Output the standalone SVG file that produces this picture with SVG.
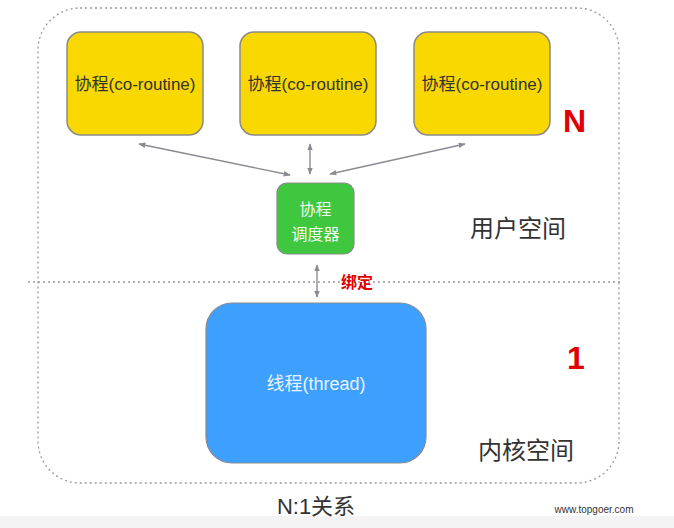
<svg xmlns="http://www.w3.org/2000/svg" width="674" height="528" viewBox="0 0 674 528">
<defs>
<style>
.t{font-family:"Liberation Sans","Noto Sans CJK SC",sans-serif;}
.co{fill:#F8D800;stroke:#8a8a8a;stroke-width:1.5;}
.lbl{font-size:17px;fill:#333;text-anchor:middle;}
.wl{font-size:16px;fill:#f0f8f0;text-anchor:middle;}
.big{font-size:24px;fill:#333;}
.red{fill:#e00000;font-weight:bold;}
.conn{stroke:#8a8a92;stroke-width:1.4;fill:none;marker-start:url(#ah);marker-end:url(#ah);}
.dash{fill:none;stroke:#999;stroke-width:1.3;stroke-dasharray:2 3;}
</style>
<marker id="ah" viewBox="0 0 10 10" refX="9" refY="5" markerWidth="7" markerHeight="7" orient="auto-start-reverse" markerUnits="userSpaceOnUse">
<path d="M0,1 L10,5 L0,9 Z" fill="#8a8a92"/>
</marker>
</defs>
<rect width="674" height="528" fill="#ffffff"/>
<rect x="0" y="516" width="674" height="12" fill="#f4f4f4"/>
<g id="frame">
<rect class="dash" x="38" y="8" width="581" height="475" rx="42"/>
<line class="dash" x1="28" y1="282" x2="623" y2="282"/>
</g>
<g id="co1"><rect class="co" x="67" y="32" width="136" height="103" rx="14"/><text class="t lbl" x="135" y="90">协程(co-routine)</text></g>
<g id="co2"><rect class="co" x="240" y="32" width="136" height="103" rx="14"/><text class="t lbl" x="308" y="90">协程(co-routine)</text></g>
<g id="co3"><rect class="co" x="414" y="32" width="136" height="103" rx="14"/><text class="t lbl" x="482" y="90">协程(co-routine)</text></g>
<g id="sched">
<rect x="277" y="183" width="77" height="71" rx="10" fill="#3FC83F" stroke="#8a8a8a" stroke-width="1.2"/>
<text class="t wl" x="315.5" y="215">协程</text>
<text class="t wl" x="315.5" y="240">调度器</text>
</g>
<g id="thread">
<rect x="206" y="303" width="220" height="160" rx="26" fill="#3DA0FF" stroke="#8a8a8a" stroke-width="1.2"/>
<text class="t wl" x="316" y="390" style="fill:#e8f2ff;font-size:18px">线程(thread)</text>
</g>
<g id="connectors">
<line class="conn" x1="139" y1="144" x2="290" y2="175"/>
<line class="conn" x1="310" y1="144" x2="310" y2="174"/>
<line class="conn" x1="465" y1="144" x2="330" y2="174"/>
<line class="conn" x1="317" y1="265" x2="317" y2="297"/>
</g>
<g id="labels">
<text class="t red" x="341" y="288" font-size="16">绑定</text>
<text class="t red" x="563" y="132" font-size="32">N</text>
<text class="t red" x="567" y="369" font-size="32">1</text>
<text class="t big" x="470" y="237">用户空间</text>
<text class="t big" x="478" y="459">内核空间</text>
<text class="t" x="316" y="514" font-size="22" fill="#333" text-anchor="middle">N:1关系</text>
<text class="t" x="594" y="513" font-size="10" fill="#333" text-anchor="middle">www.topgoer.com</text>
</g>
</svg>
